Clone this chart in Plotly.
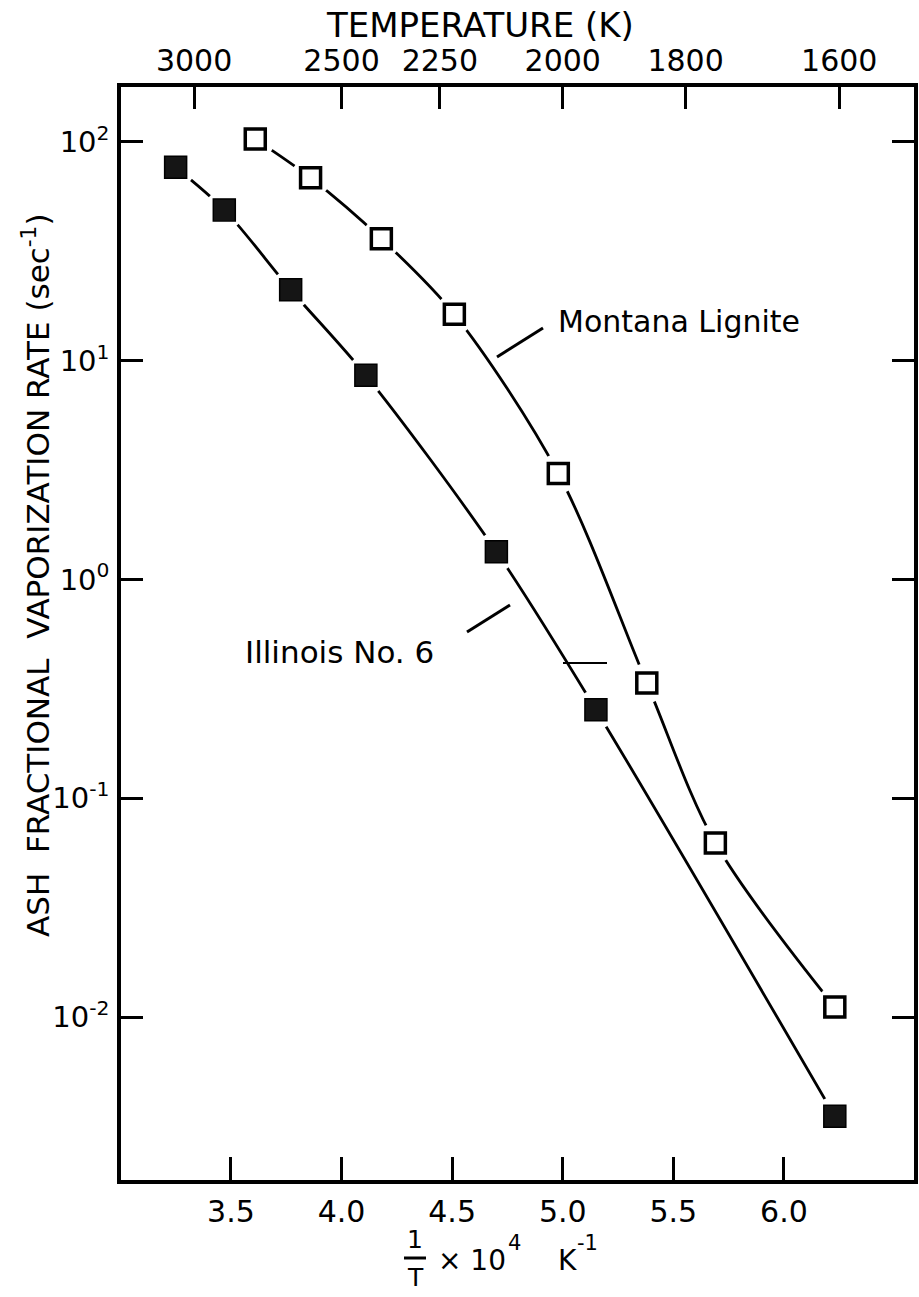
import plotly.graph_objects as go

# ---------------- data ----------------
montana_x = [3.61, 3.86, 4.18, 4.51, 4.98, 5.38, 5.69, 6.23]
montana_y = [103, 68.5, 36.1, 16.3, 3.05, 0.336, 0.0624, 0.0111]

illinois_x = [3.25, 3.47, 3.77, 4.11, 4.70, 5.15, 6.23]
illinois_y = [76.5, 48.9, 21.1, 8.57, 1.34, 0.254, 0.00352]

bottom_ticks = [3.5, 4.0, 4.5, 5.0, 5.5, 6.0]
bottom_labels = ["3.5", "4.0", "4.5", "5.0", "5.5", "6.0"]
top_temps = [3000, 2500, 2250, 2000, 1800, 1600]
y_ticks = [1e-2, 1e-1, 1, 10, 100]
y_labels = ["10<sup>-2</sup>", "10<sup>-1</sup>", "10<sup>0</sup>",
            "10<sup>1</sup>", "10<sup>2</sup>"]

# ---------------- layout frame ----------------
W, H = 919, 1297
L, R, T, B = 121, 914, 87, 1180
XR = [3.003, 6.588]
YR = [-2.745, 2.251]
FONT = "DejaVu Sans"


def px(x):
    return (x - L) / (R - L)


def py(y):
    return (B - y) / (B - T)


fig = go.Figure()

# curves
for xs, ys in ((montana_x, montana_y), (illinois_x, illinois_y)):
    fig.add_trace(go.Scatter(x=xs, y=ys, mode="lines",
                             line=dict(shape="spline", smoothing=0.9,
                                       color="black", width=2.8),
                             hoverinfo="skip", showlegend=False))
# white halos to create gaps around the symbols
for xs, ys in ((montana_x, montana_y), (illinois_x, illinois_y)):
    fig.add_trace(go.Scatter(x=xs, y=ys, mode="markers",
                             marker=dict(symbol="circle", size=40, color="white"),
                             hoverinfo="skip", showlegend=False))
# symbols
fig.add_trace(go.Scatter(x=montana_x, y=montana_y, mode="markers",
                         name="Montana Lignite",
                         marker=dict(symbol="square", size=20, color="white",
                                     line=dict(color="black", width=3.5)),
                         showlegend=False))
fig.add_trace(go.Scatter(x=illinois_x, y=illinois_y, mode="markers",
                         name="Illinois No. 6",
                         marker=dict(symbol="square", size=22, color="#151515",
                                     line=dict(color="black", width=1.5)),
                         showlegend=False))
# invisible trace to activate the top (temperature) axis
fig.add_trace(go.Scatter(x=illinois_x, y=illinois_y, xaxis="x2", mode="markers",
                         marker=dict(opacity=0), hoverinfo="skip",
                         showlegend=False))

axis_common = dict(showgrid=False, zeroline=False, showline=True,
                   linecolor="black", linewidth=3.5, ticks="inside",
                   tickcolor="black", tickwidth=2.5, automargin=False)

fig.update_layout(
    width=W, height=H, autosize=False,
    template="none",
    paper_bgcolor="white", plot_bgcolor="white",
    margin=dict(l=L, r=W - R, t=T, b=H - B, pad=0),
    font=dict(family=FONT, color="black"),
    xaxis=dict(**axis_common, range=XR, tickvals=bottom_ticks,
               ticktext=bottom_labels, ticklen=23, mirror=False,
               tickfont=dict(size=30, family=FONT), ticklabelstandoff=2),
    xaxis2=dict(**axis_common, range=XR, overlaying="x", side="top",
                anchor="y",
                tickvals=[1e4 / t for t in top_temps],
                ticktext=[str(t) for t in top_temps], ticklen=22,
                tickfont=dict(size=30, family=FONT), ticklabelstandoff=0),
    yaxis=dict(**axis_common, type="log", range=YR, tickvals=y_ticks,
               ticktext=y_labels, ticklen=22, mirror="ticks",
               tickfont=dict(size=29, family=FONT), ticklabelstandoff=2),
)

ann = [
    dict(text="TEMPERATURE (K)", x=px(480), y=py(25), xanchor="center",
         yanchor="middle", font=dict(size=34)),
    dict(text="ASH  FRACTIONAL  VAPORIZATION RATE (sec<sup>-1</sup>)",
         x=px(36), y=py(575), xanchor="center", yanchor="middle",
         textangle=-90, font=dict(size=31)),
    dict(text="Montana Lignite", x=px(556), y=py(321), xanchor="left",
         yanchor="middle", font=dict(size=30)),
    dict(text="Illinois No. 6", x=px(243), y=py(652), xanchor="left",
         yanchor="middle", font=dict(size=31)),
    dict(text="1", x=px(415), y=py(1239), xanchor="center", yanchor="middle",
         font=dict(size=25)),
    dict(text="T", x=px(415), y=py(1277), xanchor="center", yanchor="middle",
         font=dict(size=25)),
    dict(text="\u00d7 10", x=px(436), y=py(1260), xanchor="left",
         yanchor="middle", font=dict(size=28)),
    dict(text="4", x=px(506), y=py(1243), xanchor="left",
         yanchor="middle", font=dict(size=21)),
    dict(text="K", x=px(556), y=py(1260), xanchor="left",
         yanchor="middle", font=dict(size=28)),
    dict(text="-1", x=px(575), y=py(1243), xanchor="left",
         yanchor="middle", font=dict(size=21)),
]
for a in ann:
    a.update(xref="paper", yref="paper", showarrow=False)
fig.update_layout(annotations=ann)

line = dict(color="black", width=3)
shapes = [
    dict(type="line", x0=px(497), y0=py(357), x1=px(543), y1=py(328), line=line),
    dict(type="line", x0=px(467), y0=py(632), x1=px(510), y1=py(605), line=line),
    dict(type="line", x0=px(563), y0=py(663), x1=px(607), y1=py(663),
         line=dict(color="black", width=2)),
    dict(type="line", x0=px(404), y0=py(1258), x1=px(426), y1=py(1258),
         line=dict(color="black", width=3)),
]
for s in shapes:
    s.update(xref="paper", yref="paper", layer="above")
fig.update_layout(shapes=shapes)

fig.write_html("out.html")
